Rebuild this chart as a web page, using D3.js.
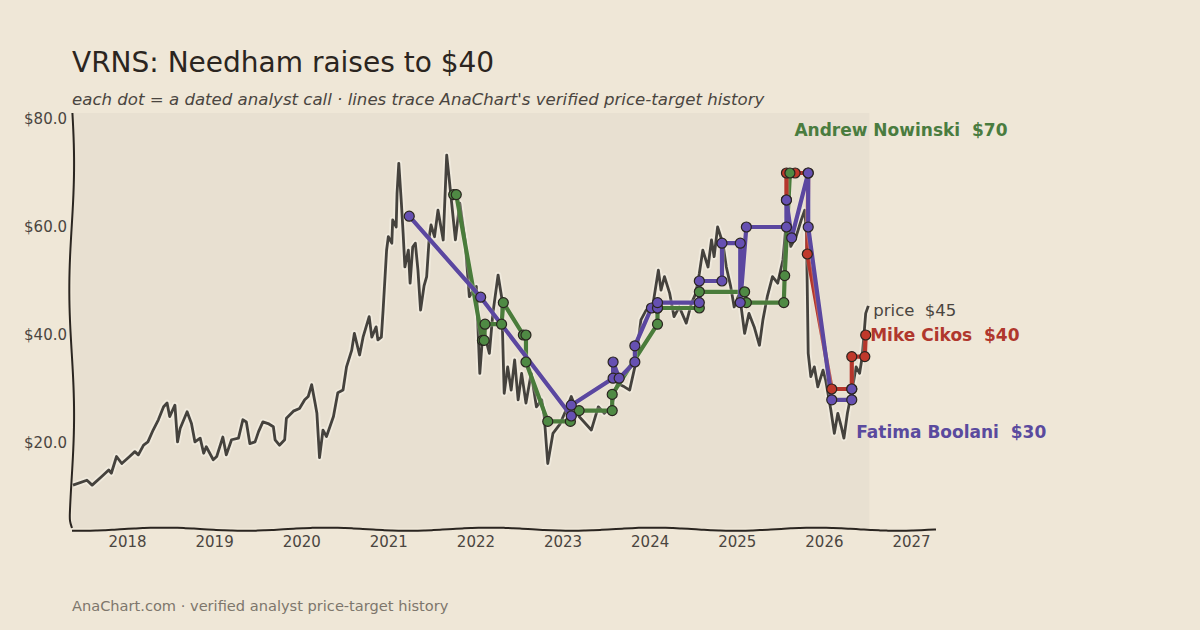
<!DOCTYPE html>
<html>
<head>
<meta charset="utf-8">
<script src="https://cdn.jsdelivr.net/npm/d3@7/dist/d3.min.js"></script>
<style>
  body { margin: 0; background: #efe7d7; }
  svg text { font-family: "DejaVu Sans", sans-serif; }
</style>
</head>
<body>
<div id="chart"></div>
<script>
// VRNS closing price (decimal year, $)
const priceDates = [2017.38,2017.54,2017.60,2017.71,2017.79,2017.82,2017.88,2017.94,2018.03,2018.09,2018.13,2018.19,2018.24,2018.30,2018.36,2018.42,2018.46,2018.49,2018.55,2018.58,2018.61,2018.69,2018.74,2018.78,2018.84,2018.88,2018.91,2018.99,2019.03,2019.10,2019.14,2019.20,2019.28,2019.33,2019.37,2019.41,2019.47,2019.51,2019.56,2019.62,2019.68,2019.70,2019.75,2019.81,2019.83,2019.91,2019.98,2020.04,2020.08,2020.12,2020.16,2020.18,2020.21,2020.25,2020.29,2020.37,2020.42,2020.48,2020.52,2020.58,2020.61,2020.67,2020.71,2020.78,2020.81,2020.86,2020.88,2020.92,2020.94,2020.98,2021.00,2021.04,2021.05,2021.09,2021.10,2021.12,2021.15,2021.17,2021.19,2021.23,2021.25,2021.28,2021.31,2021.34,2021.37,2021.41,2021.44,2021.47,2021.49,2021.53,2021.57,2021.63,2021.67,2021.70,2021.77,2021.82,2021.88,2021.93,2022.01,2022.05,2022.09,2022.13,2022.16,2022.20,2022.26,2022.30,2022.33,2022.37,2022.41,2022.45,2022.49,2022.53,2022.58,2022.64,2022.70,2022.76,2022.79,2022.83,2022.89,2022.97,2023.04,2023.10,2023.19,2023.33,2023.41,2023.48,2023.56,2023.63,2023.71,2023.77,2023.83,2023.90,2023.96,2024.04,2024.10,2024.13,2024.17,2024.23,2024.28,2024.34,2024.42,2024.48,2024.53,2024.57,2024.61,2024.67,2024.71,2024.74,2024.78,2024.84,2024.88,2024.93,2024.97,2025.03,2025.09,2025.14,2025.20,2025.26,2025.30,2025.35,2025.41,2025.47,2025.53,2025.57,2025.62,2025.68,2025.74,2025.78,2025.80,2025.82,2025.85,2025.89,2025.93,2025.99,2026.02,2026.08,2026.12,2026.16,2026.20,2026.23,2026.27,2026.33,2026.37,2026.41,2026.44,2026.48,2026.51];
const priceValues = [12.2,13.1,12.2,13.8,15.0,14.4,17.5,16.2,17.5,18.4,17.8,19.6,20.2,22.4,24.3,26.7,27.4,24.9,27.0,20.2,22.7,25.8,23.6,20.2,20.9,18.1,19.3,16.9,17.5,21.1,17.8,20.6,20.9,24.3,23.9,19.9,20.2,22.1,23.9,23.6,23.0,20.6,19.6,20.6,24.6,25.9,26.4,28.0,28.6,30.8,27.3,25.5,17.3,22.4,21.2,24.9,29.3,29.8,34.1,37.2,40.3,36.3,39.6,43.4,39.6,41.5,39.1,39.6,44.6,55.7,58.2,57.0,61.3,60.0,66.2,71.8,64.4,58.8,52.6,55.7,49.6,56.3,57.0,52.0,44.6,49.1,50.8,58.2,60.4,58.2,63.1,57.6,73.3,68.7,57.6,64.4,57.6,47.1,49.0,32.9,41.5,38.5,36.6,44.0,51.1,47.1,29.2,34.1,29.8,35.4,28.0,32.9,27.4,32.9,26.7,28.0,24.9,16.2,21.8,23.5,26.1,28.6,24.9,22.4,26.7,25.5,26.7,31.0,30.4,29.8,34.1,42.8,44.6,45.9,52.0,48.3,50.8,47.7,43.4,45.2,42.2,45.9,47.7,51.4,55.7,52.6,57.6,54.5,60.0,57.0,52.6,49.0,45.2,47.7,40.3,44.0,41.5,38.1,42.8,47.1,50.8,49.6,53.9,61.3,56.4,58.2,61.3,63.1,58.8,36.6,32.3,34.1,30.4,33.5,31.7,26.1,21.8,25.5,23.0,20.9,25.5,30.4,34.1,32.9,36.0,44.0,45.4];

// analyst calls, in the order the history line visits them
const nowinskiDates = [2021.75,2021.78,2022.08,2022.10,2022.11,2022.30,2022.32,2022.55,2022.58,2022.58,2022.83,2023.09,2023.19,2023.57,2023.57,2024.09,2024.09,2024.57,2024.57,2025.09,2025.11,2025.54,2025.55,2025.61];
const nowinskiTargets = [66,66,39,39,42,42,46,40,40,35,24,24,26,26,29,42,45,45,48,48,46,46,51,70];

const boolaniDates = [2021.24,2022.06,2023.10,2023.10,2023.58,2023.58,2023.65,2023.83,2023.83,2024.02,2024.09,2024.09,2024.57,2024.57,2024.83,2024.83,2025.04,2025.04,2025.11,2025.57,2025.57,2025.63,2025.82,2025.82,2026.09,2026.32,2026.32];
const boolaniTargets = [62,47,25,27,32,35,32,35,38,45,45,46,46,50,50,57,57,46,60,60,65,58,70,60,28,28,30];

const cikosDates = [2025.57,2025.57,2025.67,2025.82,2025.81,2026.09,2026.32,2026.32,2026.47,2026.48];
const cikosTargets = [65,70,70,70,55,30,30,36,36,40];

const yearTicks = [2018,2019,2020,2021,2022,2023,2024,2025,2026,2027];
const priceTicks = [20,40,60,80];

const nowinski = {name: "Andrew Nowinski", dates: nowinskiDates, targets: nowinskiTargets, line: "#4a7c3b", dot: "#4f8a44", label: "#4a7c3f", dy: -43};
const boolani = {name: "Fatima Boolani", dates: boolaniDates, targets: boolaniTargets, line: "#5b47a0", dot: "#6650b2", label: "#5a4a9e", dy: 43};
const cikos = {name: "Mike Cikos", dates: cikosDates, targets: cikosTargets, line: "#b5362c", dot: "#c0392b", label: "#b0372d", dy: 0};

const width = 1200, height = 630;
const svg = d3.select("#chart").append("svg")
  .attr("width", width)
  .attr("height", height);

svg.append("rect").attr("width", width).attr("height", height).attr("fill", "#efe7d7");

let x = d3.scaleLinear().domain([2018, 2027]).range([127, 911]);
let y = d3.scaleLinear().domain([0, 80]).range([551, 119]);

const plotLeft = 72, plotTop = 113, plotBottom = 528, plotRight = 936;

// plot panel
svg.append("rect")
  .attr("x", plotLeft).attr("y", plotTop)
  .attr("width", x(d3.max(priceDates)) - plotLeft + 1)
  .attr("height", plotBottom - plotTop)
  .attr("fill", "#e8e0d1");

// title block
svg.append("text").attr("x", 72).attr("y", 72)
  .attr("font-size", 28).attr("fill", "#2b2520")
  .text("VRNS: Needham raises to $40");
svg.append("text").attr("x", 72).attr("y", 105)
  .attr("font-size", 16.6).attr("font-style", "italic").attr("fill", "#4a4540")
  .text("each dot = a dated analyst call \u00b7 lines trace AnaChart's verified price-target history");
svg.append("text").attr("x", 72).attr("y", 611)
  .attr("font-size", 14.6).attr("fill", "#7d766c")
  .text("AnaChart.com \u00b7 verified analyst price-target history");

// axes (labels only, the hand-drawn spines come after)
let xAxis = d3.axisBottom(x).tickValues(yearTicks).tickFormat(d3.format("d")).tickSize(0).tickPadding(8);
let yAxis = d3.axisLeft(y).tickValues(priceTicks).tickFormat(d => "$" + d.toFixed(1)).tickSize(0).tickPadding(5);

let gx = svg.append("g").attr("transform", `translate(0,${plotBottom})`).call(xAxis);
let gy = svg.append("g").attr("transform", `translate(${plotLeft},0)`).call(yAxis);
[gx, gy].forEach(g => {
  g.select(".domain").remove();
  g.selectAll("text").attr("font-size", 15).attr("fill", "#4a4540").attr("font-family", "DejaVu Sans");
});

// price line with a soft halo
let priceData = priceDates.map((d, i) => [d, priceValues[i]]);
let priceLine = d3.line().x(d => x(d[0])).y(d => y(d[1]));

svg.append("path").datum(priceData)
  .attr("d", priceLine).attr("fill", "none")
  .attr("stroke", "#f4eee2").attr("stroke-opacity", 0.7)
  .attr("stroke-width", 6.5).attr("stroke-linejoin", "round");
svg.append("path").datum(priceData)
  .attr("d", priceLine).attr("fill", "none")
  .attr("stroke", "#45423d").attr("stroke-width", 2.8)
  .attr("stroke-linejoin", "round");

// analyst target histories: all lines first, then all dots on top
const pts = a => a.dates.map((d, i) => [d, a.targets[i]]);

[nowinski, cikos, boolani].forEach(a => {
  svg.append("path").datum(pts(a))
    .attr("d", priceLine).attr("fill", "none")
    .attr("stroke", "#f4eee2").attr("stroke-opacity", 0.25)
    .attr("stroke-width", 6).attr("stroke-linejoin", "round");
  svg.append("path").datum(pts(a))
    .attr("d", priceLine).attr("fill", "none")
    .attr("stroke", a.line).attr("stroke-width", 4.2)
    .attr("stroke-linejoin", "round");
});

[cikos, nowinski, boolani].forEach(a => {
  svg.append("g").selectAll("circle").data(pts(a)).enter()
    .append("circle")
    .attr("cx", d => x(d[0]))
    .attr("cy", d => y(d[1]))
    .attr("r", 5)
    .attr("fill", a.dot)
    .attr("stroke", "#2a2520")
    .attr("stroke-width", 1.2);
});

// end labels
let lastDate = priceDates[priceDates.length - 1];
let lastPrice = priceValues[priceValues.length - 1];
svg.append("text")
  .attr("x", x(lastDate) + 5).attr("y", y(lastPrice) + 4)
  .attr("dy", "0.35em").attr("font-size", 16.5).attr("fill", "#4a4540")
  .style("white-space", "pre")
  .text("price  $" + Math.round(lastPrice));

[nowinski, boolani, cikos].forEach(a => {
  let n = a.dates.length;
  svg.append("text")
    .attr("x", x(a.dates[n - 1]) + 4.5)
    .attr("y", y(a.targets[n - 1]) + a.dy)
    .attr("dy", "0.35em")
    .attr("font-size", 17).attr("font-weight", "bold")
    .attr("fill", a.label)
    .style("white-space", "pre")
    .text(a.name + "  $" + a.targets[n - 1]);
});

// hand-drawn spines
let wobble = d3.line().curve(d3.curveBasis);
let leftSpine = d3.range(plotTop, plotBottom + 1, 8).map(v => [plotLeft + 2.4 * Math.sin((v - plotTop) / 40 + 0.3) - 0.3, v]);
leftSpine.push([plotLeft, plotBottom]);
let bottomSpine = d3.range(plotLeft, plotRight + 1, 8).map(v => [v, plotBottom + 1.6 * Math.sin((v - plotLeft) / 26 + 1.2) + 1.2]);

svg.append("path").attr("d", wobble(leftSpine))
  .attr("fill", "none").attr("stroke", "#2a2520").attr("stroke-width", 2);
svg.append("path").attr("d", wobble(bottomSpine))
  .attr("fill", "none").attr("stroke", "#2a2520").attr("stroke-width", 2);
</script>
</body>
</html>
